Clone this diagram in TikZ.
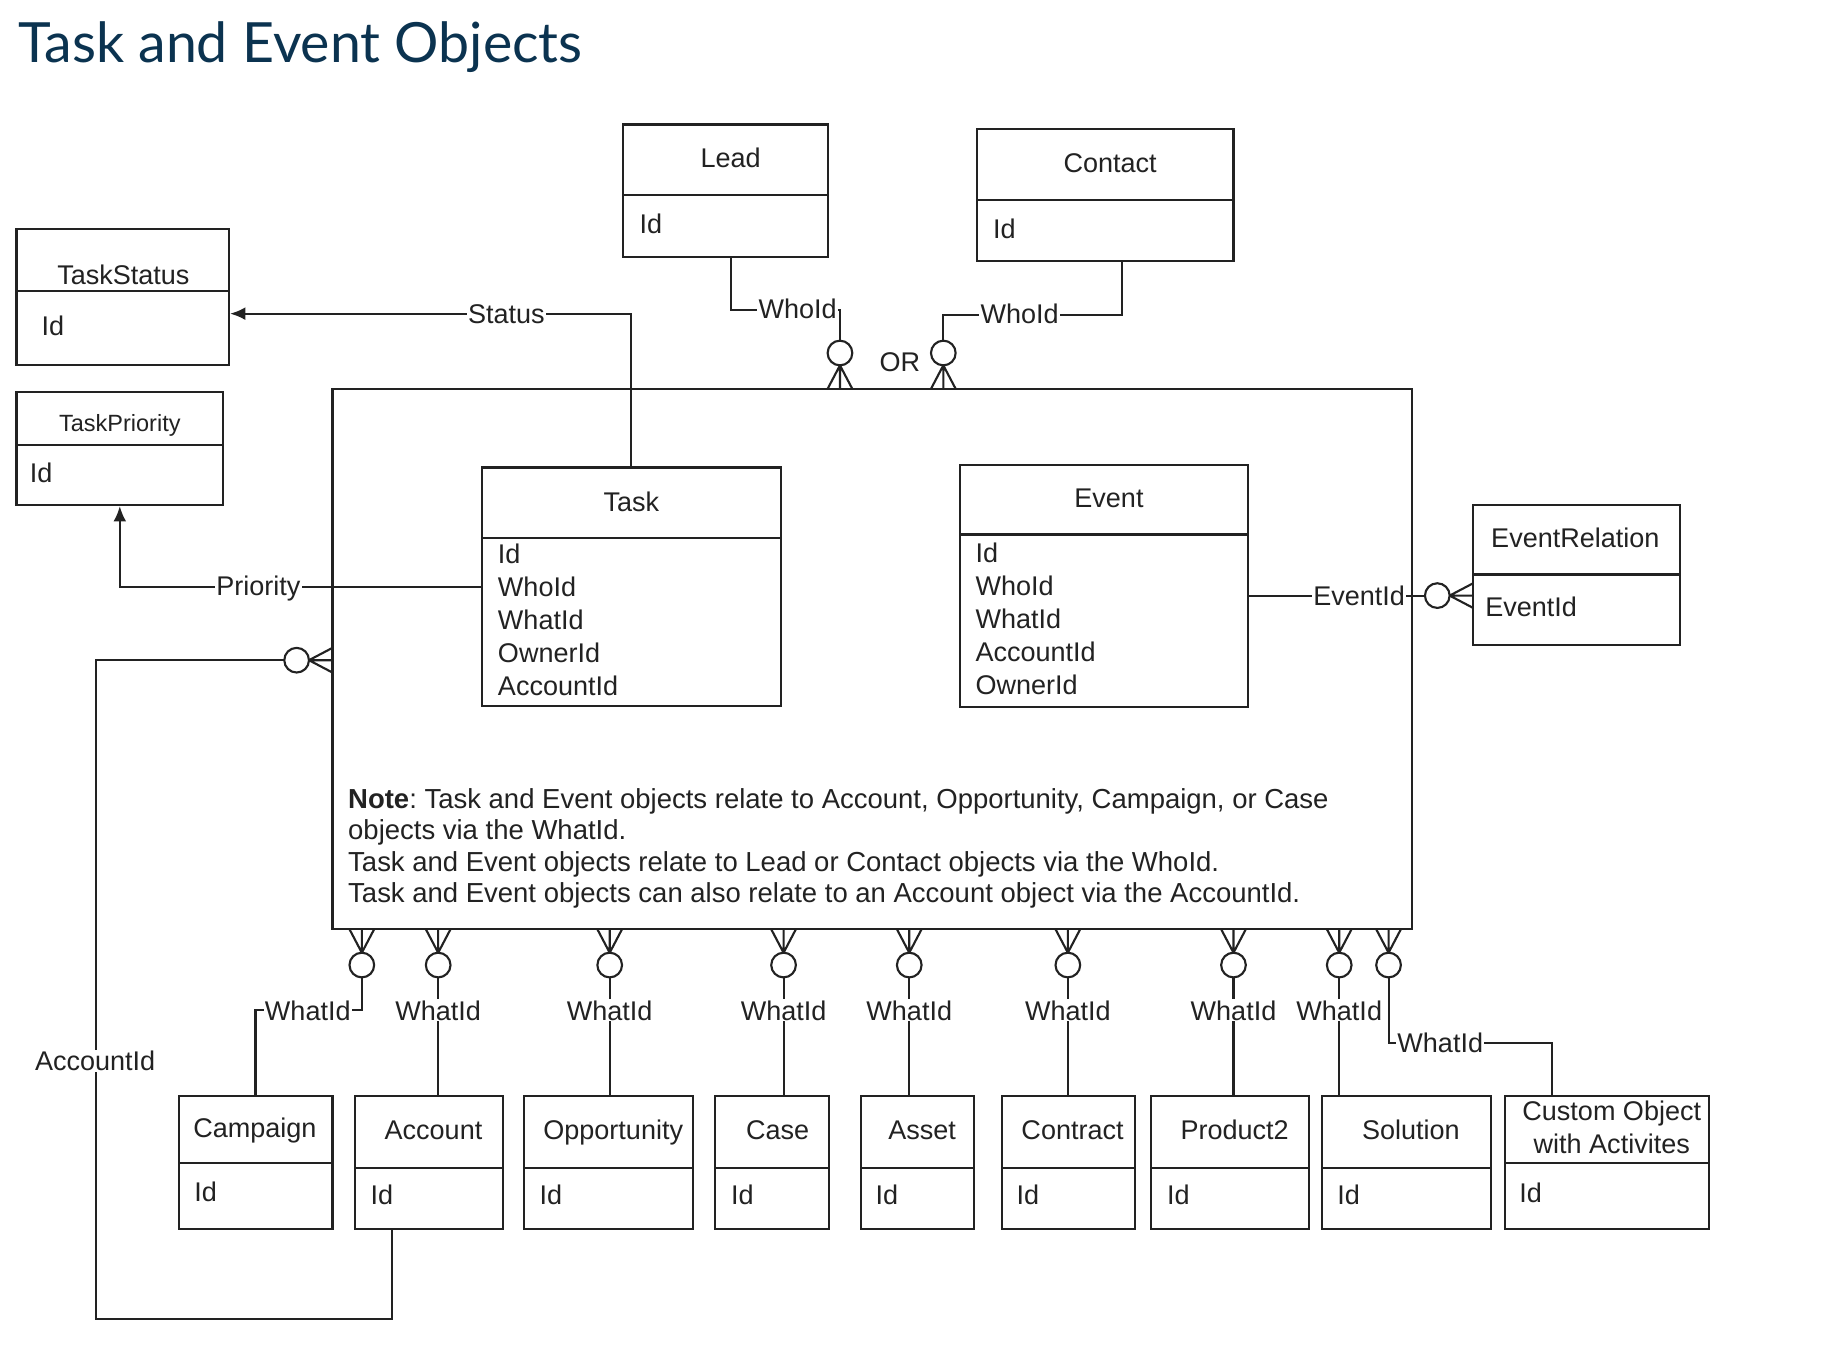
\documentclass[tikz,border=0pt]{standalone}
\usepackage{fontspec}
\setmainfont{Liberation Sans}
\newfontfamily\titlefont{Lato}
\usetikzlibrary{fit,calc,arrows.meta}
\definecolor{ink}{HTML}{222222}
\definecolor{navy}{HTML}{0B3350}
\frenchspacing
\newcommand{\entity}[6]{%
  \node[ebox, fit={(#2,#3) (#4,#5)}] (#1) {};
  \draw[conn] (#2,#6) -- (#4,#6);}
\newcommand{\crowfoot}[2]{%
  \begin{scope}[shift={(#1)}, rotate=#2]
    \draw[conn] (-10.5,0) -- (0,20) -- (10.5,0) (0,0) -- (0,20);
    \draw[conn, fill=white] (0,30.5) circle[radius=5.25pt];
  \end{scope}}
\tikzset{
 ebox/.style={draw=ink, line width=0.9pt, inner sep=0pt, fill=white},
 conn/.style={draw=ink, line width=0.9pt},
 hdr/.style={anchor=base, inner sep=0pt, font=\fontsize{11.5}{13}\selectfont, text=ink},
 fld/.style={anchor=base west, inner sep=0pt, font=\fontsize{11.5}{13}\selectfont, text=ink},
 notest/.style={anchor=base west, inner sep=0pt, font=\fontsize{11.7}{13}\selectfont, text=ink},
 lbl/.style={fill=white, inner sep=0.6pt, font=\fontsize{11.5}{13}\selectfont, text=ink, text height=8.3pt, text depth=0pt},
 titlest/.style={anchor=base west, inner sep=0pt, font=\titlefont\fontsize{23.6}{28}\selectfont, text=navy},
 arr/.style={-{Latex[length=6.5pt,width=5.5pt]}},
}
\begin{document}
\begin{tikzpicture}[x=0.5pt,y=-0.5pt]
\useasboundingbox (0,0) rectangle (1568,1149);
\fill[white] (0,0) rectangle (1568,1149);

\node[titlest] (title) at (15,53) {Task and Event Objects};

% big container
\node[ebox, line width=1pt, fit={(283,331) (1202,791)}] (big) {};

% top entities
\entity{lead}{530}{106}{705}{219}{166}
\node[hdr] (leadT) at (622,143) {Lead};
\node[fld] (leadId) at (544,199) {Id};

\entity{contact}{832}{110}{1050}{222}{170}
\node[hdr] (contactT) at (945,147) {Contact};
\node[fld] (contactId) at (845,203) {Id};

\entity{taskstatus}{14}{195}{195}{311}{248}
\node[hdr] (tsT) at (105,242) {TaskStatus};
\node[fld] (tsId) at (35,286) {Id};

\entity{taskpriority}{14}{334}{190}{430}{379}
\node[hdr, font=\fontsize{10}{12}\selectfont] (tpT) at (102,367) {TaskPriority};
\node[fld] (tpId) at (25,411) {Id};

\entity{task}{410}{398}{665}{601}{458}
\node[hdr] (taskT) at (537.5,435) {Task};
\node[fld] (tf1) at (423.5,480) {Id};
\node[fld] (tf2) at (423.5,508) {WhoId};
\node[fld] (tf3) at (423.5,536) {WhatId};
\node[fld] (tf4) at (423.5,564) {OwnerId};
\node[fld] (tf5) at (423.5,592) {AccountId};

\entity{event}{817}{396}{1062}{602}{455}
\node[hdr] (eventT) at (944,432) {Event};
\node[fld] (ef1) at (830,479) {Id};
\node[fld] (ef2) at (830,507) {WhoId};
\node[fld] (ef3) at (830,535) {WhatId};
\node[fld] (ef4) at (830,563) {AccountId};
\node[fld] (ef5) at (830,591) {OwnerId};

\entity{evrel}{1254}{430}{1430}{549}{489}
\node[hdr] (erT) at (1341,466) {EventRelation};
\node[fld] (erF) at (1264,525) {EventId};

% note
\node[notest] (note1) at (296,688) {\textbf{Note}: Task and Event objects relate to Account, Opportunity, Campaign, or Case};
\node[notest] (note2) at (296,715) {objects via the WhatId.};
\node[notest] (note3) at (296,742) {Task and Event objects relate to Lead or Contact objects via the WhoId.};
\node[notest] (note4) at (296,768) {Task and Event objects can also relate to an Account object via the AccountId.};

% bottom entities
\entity{campaign}{152}{933}{283}{1046}{990}
\node[hdr] (campT) at (217,968) {Campaign};
\node[fld] (campId) at (165,1023) {Id};

\entity{account}{302}{933}{428}{1046}{994}
\node[hdr] (accT) at (369,970) {Account};
\node[fld] (accId) at (315,1025) {Id};

\entity{opportunity}{446}{933}{590}{1046}{994}
\node[hdr] (oppT) at (522,970) {Opportunity};
\node[fld] (oppId) at (459,1025) {Id};

\entity{case}{609}{933}{706}{1046}{994}
\node[hdr] (caseT) at (662,970) {Case};
\node[fld] (caseId) at (622,1025) {Id};

\entity{asset}{733}{933}{829}{1046}{994}
\node[hdr] (assetT) at (785,970) {Asset};
\node[fld] (assetId) at (745,1025) {Id};

\entity{contract}{853}{933}{966}{1046}{994}
\node[hdr] (contrT) at (913,970) {Contract};
\node[fld] (contrId) at (865,1025) {Id};

\entity{product}{980}{933}{1114}{1046}{994}
\node[hdr] (prodT) at (1051,970) {Product2};
\node[fld] (prodId) at (993,1025) {Id};

\entity{solution}{1125}{933}{1269}{1046}{994}
\node[hdr] (solT) at (1201,970) {Solution};
\node[fld] (solId) at (1138,1025) {Id};

\entity{custom}{1281}{933}{1455}{1046}{990}
\node[hdr] (custT1) at (1372,954) {Custom Object};
\node[hdr] (custT2) at (1372,982) {with Activites};
\node[fld] (custId) at (1293,1024) {Id};

% connectors
\draw[conn, arr] (task.north) |- ($(taskstatus.east)+(0,14)$);
\draw[conn, arr] (task.west) -| (taskpriority.south);

\coordinate (leadfoot) at (715,331);
\coordinate (contfoot) at (803,331);
\draw[conn] ($(lead.south)+(4.5,0)$) -- ++(0,44) -| ($(leadfoot)+(0,-41)$);
\draw[conn] ($(contact.south)+(14,0)$) -- ++(0,45) -| ($(contfoot)+(0,-41)$);
\crowfoot{leadfoot}{180}
\crowfoot{contfoot}{180}

\coordinate (erfoot) at (1254,507);
\draw[conn] ($(event.east)+(0,8)$) -- ($(erfoot)+(-41,0)$);
\crowfoot{erfoot}{-90}

\coordinate (accfoot) at (283,562);
\draw[conn] ($(account.south)+(-31,0)$) -- ++(0,76) -- ++(-252,0) |- ($(accfoot)+(-41,0)$);
\crowfoot{accfoot}{-90}

\foreach \n/\xx in {1/308,2/373,3/519,4/667,5/774,6/909,7/1050,8/1140,9/1182}{
  \coordinate (bf\n) at (\xx,791);
  \crowfoot{bf\n}{0}
}
\draw[conn] ($(bf1)+(0,41)$) -- ++(0,28) -| (campaign.north);
\draw[conn] ($(bf2)+(0,41)$) -- (bf2 |- account.north);
\draw[conn] ($(bf3)+(0,41)$) -- (bf3 |- opportunity.north);
\draw[conn] ($(bf4)+(0,41)$) -- (bf4 |- case.north);
\draw[conn] ($(bf5)+(0,41)$) -- (bf5 |- asset.north);
\draw[conn] ($(bf6)+(0,41)$) -- (bf6 |- contract.north);
\draw[conn] ($(bf7)+(0,41)$) -- (bf7 |- product.north);
\draw[conn] ($(bf8)+(0,41)$) -- (bf8 |- solution.north);
\draw[conn] ($(bf9)+(0,41)$) -- ++(0,56) -| ($(custom.north)+(-47,0)$);

% labels
\node[lbl] (lStatus) at (431,267) {Status};
\node[lbl] (lPriority) at (220,499) {Priority};
\node[lbl] (lWho1) at (679,263) {WhoId};
\node[lbl] (lWho2) at (868,267) {WhoId};
\node[hdr] (orT) at (766,316) {OR};
\node[lbl] (lEv) at (1157,507) {EventId};
\node[lbl] (lAcc) at (81,903) {AccountId};
\node[lbl] (w1) at (262,860) {WhatId};
\node[lbl] (w2) at (373,860) {WhatId};
\node[lbl] (w3) at (519,860) {WhatId};
\node[lbl] (w4) at (667,860) {WhatId};
\node[lbl] (w5) at (774,860) {WhatId};
\node[lbl] (w6) at (909,860) {WhatId};
\node[lbl] (w7) at (1050,860) {WhatId};
\node[lbl] (w8) at (1140,860) {WhatId};
\node[lbl] (w9) at (1226,888) {WhatId};
\end{tikzpicture}
\end{document}
